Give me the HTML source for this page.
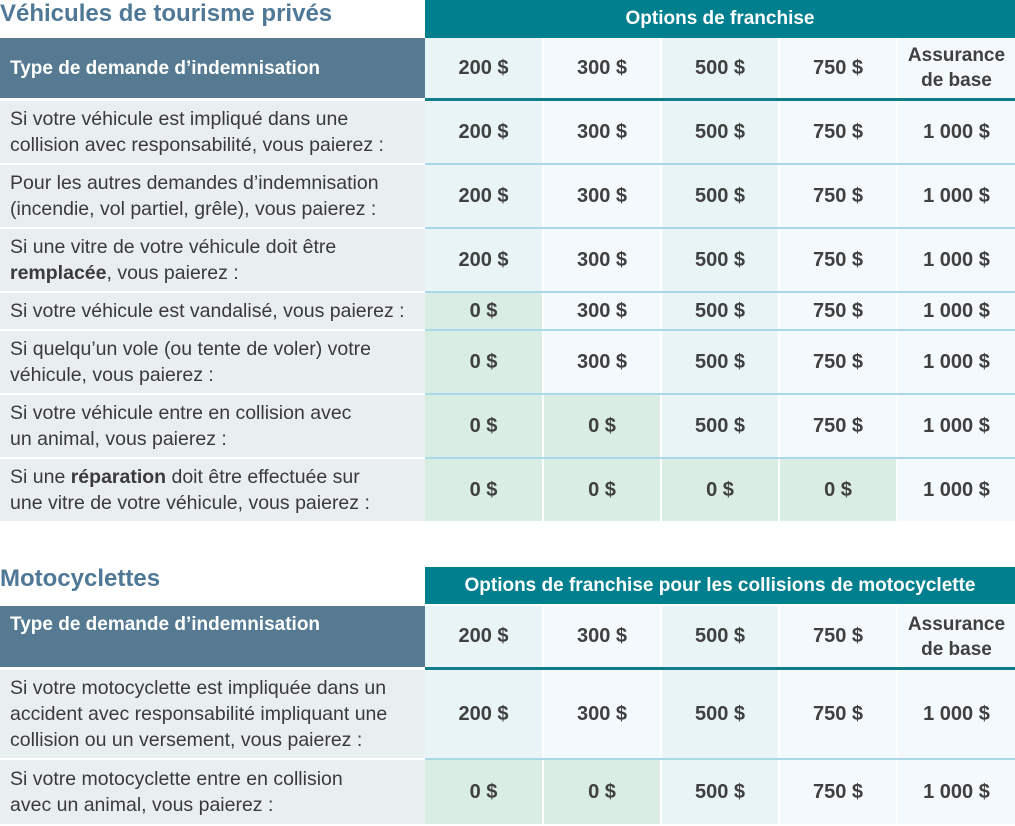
<!DOCTYPE html>
<html><head><meta charset="utf-8"><style>
body{margin:0;width:1015px;height:826px;background:#fff;position:relative;overflow:hidden;font-family:"Liberation Sans",sans-serif;color:#3a3a3a}
.t{position:absolute;left:0;font-weight:bold;color:#4f7896;font-size:24px}
.teal{position:absolute;left:425px;width:590px;background:#007f8f;color:#fff;font-weight:bold;font-size:19px;display:flex;align-items:center;justify-content:center}
.r{position:absolute;left:0;width:1015px}
.r>div{position:absolute;top:0;bottom:0;display:flex;align-items:center;justify-content:center;font-size:20px;font-weight:bold;color:#404040;text-align:center;line-height:26px}
.r>.c0{left:0;width:425px;background:#e9eef1;justify-content:flex-start;text-align:left;padding-left:10px;box-sizing:border-box;font-size:19.5px;font-weight:normal;color:#3a3a3a;white-space:nowrap}
.c1{left:425px;width:117px;background:#e8f4f6}
.c2{left:544px;width:116px;background:#f3f9fc}
.c3{left:662px;width:116px;background:#e8f4f6}
.c4{left:780px;width:116px;background:#f3f9fc}
.c5{left:898px;width:117px;background:#f3f9fc}
.r>.g{background:#d9ede2}
.h>.c0{background:#557a91;color:#fff!important;font-weight:bold!important;font-size:19px!important}
.h>div{line-height:25px}
.h>.c5{font-size:19px}
.line{position:absolute;left:425px;width:590px;background:#a9d9e6;height:2px}
.tl{position:absolute;left:425px;width:590px;background:#0f7d8c;height:3px}
</style></head><body>
<div class="t" style="top:0px">Véhicules de tourisme privés</div>
<div class="teal" style="top:0;height:38px">Options de franchise</div>
<div class="r h" style="top:38px;height:60px"><div class="c0">Type de demande d’indemnisation</div><div class="c1">200 $</div><div class="c2">300 $</div><div class="c3">500 $</div><div class="c4">750 $</div><div class="c5">Assurance<br>de base</div></div>
<div class="tl" style="top:98px"></div>
<div class="r" style="top:101px;height:62px"><div class="c0">Si votre véhicule est impliqué dans une<br>collision avec responsabilité, vous paierez :</div><div class="c1">200 $</div><div class="c2">300 $</div><div class="c3">500 $</div><div class="c4">750 $</div><div class="c5">1 000 $</div></div>
<div class="line" style="top:163px"></div>
<div class="r" style="top:165px;height:62px"><div class="c0">Pour les autres demandes d’indemnisation<br>(incendie, vol partiel, grêle), vous paierez :</div><div class="c1">200 $</div><div class="c2">300 $</div><div class="c3">500 $</div><div class="c4">750 $</div><div class="c5">1 000 $</div></div>
<div class="line" style="top:227px"></div>
<div class="r" style="top:229px;height:62px"><div class="c0"><span>Si une vitre de votre véhicule doit être<br><b>remplacée</b>, vous paierez :</span></div><div class="c1">200 $</div><div class="c2">300 $</div><div class="c3">500 $</div><div class="c4">750 $</div><div class="c5">1 000 $</div></div>
<div class="line" style="top:291px"></div>
<div class="r" style="top:293px;height:36px"><div class="c0">Si votre véhicule est vandalisé, vous paierez :</div><div class="c1 g">0 $</div><div class="c2">300 $</div><div class="c3">500 $</div><div class="c4">750 $</div><div class="c5">1 000 $</div></div>
<div class="line" style="top:329px"></div>
<div class="r" style="top:331px;height:62px"><div class="c0">Si quelqu’un vole (ou tente de voler) votre<br>véhicule, vous paierez :</div><div class="c1 g">0 $</div><div class="c2">300 $</div><div class="c3">500 $</div><div class="c4">750 $</div><div class="c5">1 000 $</div></div>
<div class="line" style="top:393px"></div>
<div class="r" style="top:395px;height:62px"><div class="c0">Si votre véhicule entre en collision avec<br>un animal, vous paierez :</div><div class="c1 g">0 $</div><div class="c2 g">0 $</div><div class="c3">500 $</div><div class="c4">750 $</div><div class="c5">1 000 $</div></div>
<div class="line" style="top:457px"></div>
<div class="r" style="top:459px;height:62px"><div class="c0"><span>Si une <b>réparation</b> doit être effectuée sur<br>une vitre de votre véhicule, vous paierez :</span></div><div class="c1 g">0 $</div><div class="c2 g">0 $</div><div class="c3 g">0 $</div><div class="c4 g">0 $</div><div class="c5">1 000 $</div></div>

<div class="t" style="top:565px">Motocyclettes</div>
<div class="teal" style="top:567px;height:37px">Options de franchise pour les collisions de motocyclette</div>
<div class="r h" style="top:606px;height:61px"><div class="c0" style="align-items:flex-start;padding-top:6px">Type de demande d’indemnisation</div><div class="c1">200 $</div><div class="c2">300 $</div><div class="c3">500 $</div><div class="c4">750 $</div><div class="c5">Assurance<br>de base</div></div>
<div class="tl" style="top:667px"></div>
<div class="r" style="top:670px;height:88px"><div class="c0">Si votre motocyclette est impliquée dans un<br>accident avec responsabilité impliquant une<br>collision ou un versement, vous paierez :</div><div class="c1">200 $</div><div class="c2">300 $</div><div class="c3">500 $</div><div class="c4">750 $</div><div class="c5">1 000 $</div></div>
<div class="line" style="top:758px"></div>
<div class="r" style="top:760px;height:64px"><div class="c0">Si votre motocyclette entre en collision<br>avec un animal, vous paierez :</div><div class="c1 g">0 $</div><div class="c2 g">0 $</div><div class="c3">500 $</div><div class="c4">750 $</div><div class="c5">1 000 $</div></div>
</body></html>
